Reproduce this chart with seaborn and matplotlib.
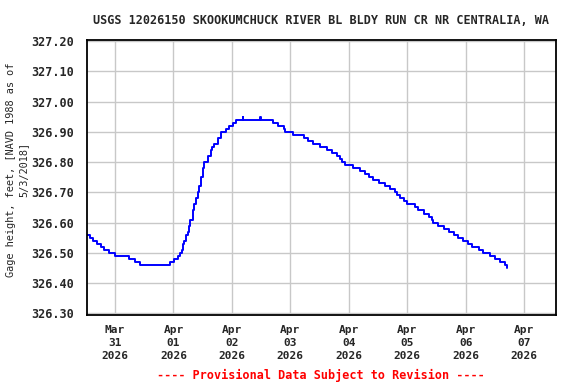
import pandas as pd
import seaborn as sns
import matplotlib.pyplot as plt

# gage height readings (change points of the stepped 15-min record)
times = [
    "2026-03-30 12:30", "2026-03-30 13:45", "2026-03-30 15:00", "2026-03-30 16:30",
    "2026-03-30 18:15", "2026-03-30 19:30", "2026-03-30 21:30", "2026-03-31 00:00",
    "2026-03-31 05:45", "2026-03-31 08:15", "2026-03-31 10:15", "2026-03-31 22:30",
    "2026-04-01 00:15", "2026-04-01 01:45", "2026-04-01 02:30", "2026-04-01 03:30",
    "2026-04-01 04:00", "2026-04-01 04:15", "2026-04-01 05:00", "2026-04-01 06:00",
    "2026-04-01 06:15", "2026-04-01 07:00", "2026-04-01 08:00", "2026-04-01 08:15",
    "2026-04-01 09:15", "2026-04-01 10:00", "2026-04-01 10:30", "2026-04-01 11:15",
    "2026-04-01 12:00", "2026-04-01 12:30", "2026-04-01 14:00", "2026-04-01 15:15",
    "2026-04-01 15:45", "2026-04-01 16:30", "2026-04-01 18:15", "2026-04-01 19:30",
    "2026-04-01 21:30", "2026-04-01 22:45", "2026-04-02 00:15", "2026-04-02 01:30",
    "2026-04-02 04:30", "2026-04-02 04:45", "2026-04-02 11:30", "2026-04-02 11:45",
    "2026-04-02 16:45", "2026-04-02 18:45", "2026-04-02 21:15", "2026-04-02 22:00",
    "2026-04-03 01:15", "2026-04-03 05:30", "2026-04-03 07:15", "2026-04-03 09:30",
    "2026-04-03 12:00", "2026-04-03 15:00", "2026-04-03 17:00", "2026-04-03 19:00",
    "2026-04-03 20:15", "2026-04-03 21:15", "2026-04-03 22:30", "2026-04-04 01:45",
    "2026-04-04 04:30", "2026-04-04 06:30", "2026-04-04 08:15", "2026-04-04 10:00",
    "2026-04-04 12:15", "2026-04-04 15:00", "2026-04-04 17:00", "2026-04-04 19:00",
    "2026-04-04 19:45", "2026-04-04 21:00", "2026-04-04 22:30", "2026-04-05 00:00",
    "2026-04-05 03:00", "2026-04-05 04:15", "2026-04-05 06:45", "2026-04-05 08:45",
    "2026-04-05 10:00", "2026-04-05 10:45", "2026-04-05 12:45", "2026-04-05 15:15",
    "2026-04-05 17:15", "2026-04-05 19:00", "2026-04-05 21:00", "2026-04-05 22:45",
    "2026-04-06 01:00", "2026-04-06 02:45", "2026-04-06 05:30", "2026-04-06 07:15",
    "2026-04-06 10:00", "2026-04-06 12:00", "2026-04-06 14:00", "2026-04-06 16:15",
    "2026-04-06 16:45", "2026-04-06 17:00",
]
gage_ft = [
    326.56, 326.55, 326.54, 326.53, 326.52, 326.51, 326.50, 326.49,
    326.48, 326.47, 326.46, 326.47,
    326.48, 326.49, 326.50, 326.51, 326.53, 326.54, 326.56, 326.57,
    326.59, 326.61, 326.64, 326.66, 326.68, 326.70, 326.72, 326.75,
    326.78, 326.80, 326.82, 326.84, 326.85, 326.86, 326.88, 326.90,
    326.91, 326.92, 326.93, 326.94, 326.95, 326.94, 326.95, 326.94,
    326.93, 326.92, 326.91, 326.90,
    326.89, 326.88, 326.87, 326.86, 326.85, 326.84, 326.83, 326.82,
    326.81, 326.80, 326.79, 326.78, 326.77, 326.76, 326.75, 326.74,
    326.73, 326.72, 326.71, 326.70, 326.69, 326.68, 326.67, 326.66,
    326.65, 326.64, 326.63, 326.62, 326.61, 326.60, 326.59, 326.58,
    326.57, 326.56, 326.55, 326.54, 326.53, 326.52, 326.51, 326.50,
    326.49, 326.48, 326.47, 326.46, 326.45, 326.45,
]
y_ticks = [326.30, 326.40, 326.50, 326.60, 326.70, 326.80, 326.90, 327.00, 327.10, 327.20]
x_ticks = ["2026-03-31", "2026-04-01", "2026-04-02", "2026-04-03",
           "2026-04-04", "2026-04-05", "2026-04-06", "2026-04-07"]

df = pd.DataFrame({"time": pd.to_datetime(times), "gage": gage_ft})

sns.set_style("white")
plt.rcParams["font.family"] = ["DejaVu Sans Mono"]
plt.rcParams["font.weight"] = "bold"

fig = plt.figure(figsize=(5.76, 3.84), dpi=100)
ax = fig.add_axes([0.151, 0.180, 0.814, 0.717])

sns.lineplot(data=df, x="time", y="gage", ax=ax, color="#0000ff",
             linewidth=1.4, drawstyle="steps-post", estimator=None)

ax.set_xlim(pd.Timestamp("2026-03-30 12:30"), pd.Timestamp("2026-04-07 13:00"))
ax.set_ylim(326.295, 327.205)
ax.set_yticks(y_ticks)
ax.set_yticklabels([f"{v:.2f}" for v in y_ticks])
xt = pd.to_datetime(x_ticks)
ax.set_xticks(xt)
ax.set_xticklabels([d.strftime("%b\n%d\n%Y") for d in xt], linespacing=1.4)
ax.tick_params(axis="y", length=3, width=1, color="#888888", labelsize=8.5, pad=6)
ax.tick_params(axis="x", length=0, labelsize=8, pad=7)
ax.grid(True, color="#c8c8c8", linewidth=1.0)
ax.set_axisbelow(True)
for s in ax.spines.values():
    s.set_color("black")
    s.set_linewidth(1.3)

ax.set_xlabel("")
ax.set_ylabel("Gage height, feet, [NAVD 1988 as of\n5/3/2018]", fontsize=7.4,
              linespacing=1.35)
ax.yaxis.set_label_coords(-0.124, 0.527)
ax.set_title("USGS 12026150 SKOOKUMCHUCK RIVER BL BLDY RUN CR NR CENTRALIA, WA",
             fontsize=8.5, fontweight="bold", pad=11)
fig.text(0.557, 0.0234, "---- Provisional Data Subject to Revision ----",
         color="red", ha="center", va="center", fontsize=8.5, fontweight="bold")

plt.savefig("out.png", dpi=100)
